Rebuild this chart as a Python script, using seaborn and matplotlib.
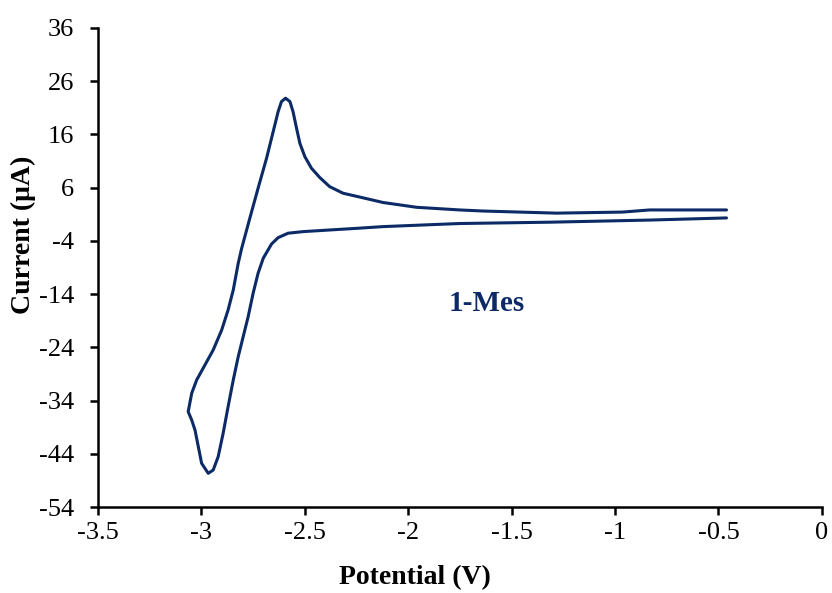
import numpy as np
import pandas as pd
import matplotlib
matplotlib.use("Agg")
import matplotlib.pyplot as plt
import seaborn as sns

# Cathodic (forward) sweep, from -0.46 V toward the switching potential
forward_potential = [-0.461, -0.833, -1.316, -1.751, -1.912, -2.122, -2.243, -2.379,
                     -2.508, -2.581, -2.629, -2.661, -2.685, -2.701, -2.726, -2.750,
                     -2.774, -2.798, -2.822, -2.846, -2.871, -2.895, -2.919, -2.943,
                     -2.967, -2.999, -3.015, -3.031, -3.047, -3.064]
forward_current = [0.3, -0.1, -0.5, -0.75, -1.0, -1.33, -1.64, -1.96,
                   -2.27, -2.57, -3.4, -4.6, -6.2, -7.27, -10.09, -13.85,
                   -18.25, -22.0, -25.76, -30.14, -35.16, -40.16, -44.55, -47.05,
                   -47.67, -45.79, -42.67, -39.54, -37.66, -36.1]

# Anodic (reverse) sweep, back toward -0.46 V
reverse_potential = [-3.047, -3.023, -2.983, -2.943, -2.902, -2.871, -2.846, -2.822,
                     -2.806, -2.766, -2.726, -2.685, -2.653, -2.629, -2.613, -2.593,
                     -2.572, -2.557, -2.540, -2.524, -2.500, -2.468, -2.428, -2.380,
                     -2.315, -2.243, -2.122, -1.960, -1.751, -1.640, -1.283, -0.964,
                     -0.833, -0.461]
reverse_current = [-32.64, -30.14, -27.32, -24.5, -20.75, -16.99, -13.23, -8.21,
                   -5.5, 0.24, 5.88, 11.52, 16.51, 20.27, 22.15, 22.79,
                   22.15, 20.27, 17.15, 14.33, 11.82, 9.64, 7.9, 6.18,
                   4.94, 4.3, 3.2, 2.3, 1.8, 1.6, 1.2, 1.4,
                   1.8, 1.8]

x_ticks = [-3.5, -3, -2.5, -2, -1.5, -1, -0.5, 0]
x_tick_labels = ["-3.5", "-3", "-2.5", "-2", "-1.5", "-1", "-0.5", "0"]
y_ticks = [-54, -44, -34, -24, -14, -4, 6, 16, 26, 36]
y_tick_labels = ["-54", "-44", "-34", "-24", "-14", "-4", "6", "16", "26", "36"]

label_text = "1-Mes"

df = pd.DataFrame({
    "Potential": forward_potential + reverse_potential,
    "Current": forward_current + reverse_current,
})

sns.set_theme(style="white")
plt.rcParams['font.family'] = ['Liberation Serif', 'DejaVu Serif']

line_color = "#0b2a66"

fig = plt.figure(figsize=(8.32, 5.93), dpi=100)
ax = fig.add_axes([0.1178, 0.145, 0.870, 0.808])

sns.lineplot(data=df, x="Potential", y="Current", sort=False, estimator=None,
             color=line_color, linewidth=2.2, ax=ax)
for l in ax.lines:
    l.set_solid_joinstyle("round")
    l.set_solid_capstyle("round")

ax.set_xlim(-3.5, 0)
ax.set_ylim(-54, 36)
ax.set_xticks(x_ticks)
ax.set_xticklabels(x_tick_labels)
ax.set_yticks(y_ticks)
ax.set_yticklabels(y_tick_labels)

for s in ["top", "right"]:
    ax.spines[s].set_visible(False)
for s in ["left", "bottom"]:
    ax.spines[s].set_color("black")
    ax.spines[s].set_linewidth(1.8)

ax.tick_params(axis="both", direction="out", length=6, width=1.8, color="black",
               labelsize=19, labelcolor="black", bottom=True, left=True)
ax.tick_params(axis="x", pad=5)
ax.tick_params(axis="y", pad=11)

ax.set_xlabel("Potential (V)", fontsize=20, fontweight="bold", color="black")
ax.set_ylabel("Current (μA)", fontsize=20, fontweight="bold", color="black")
ax.xaxis.set_label_coords(0.438, -0.122)
ax.yaxis.set_label_coords(-0.086, 0.568)

ax.text(-1.62, -15.7, label_text, fontsize=21, fontweight="bold", color=line_color,
        ha="center", va="center")

ax.grid(False)
fig.savefig("out.png", dpi=100, facecolor="white")
